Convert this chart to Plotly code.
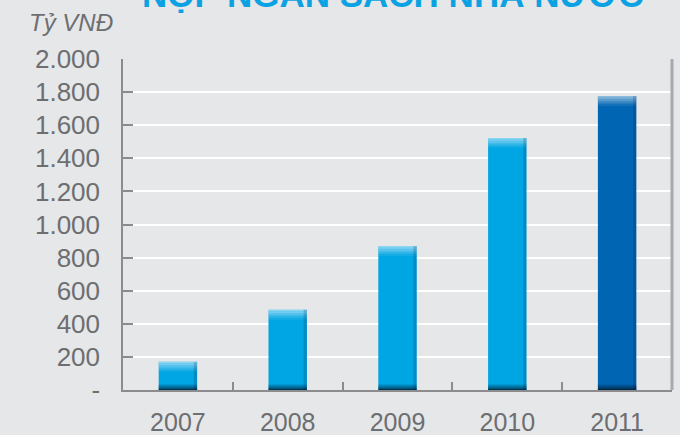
import plotly.graph_objects as go

# Annual contributions to the state budget (billion VND)
years = ["2007", "2008", "2009", "2010", "2011"]
values = [170, 485, 870, 1523, 1776]
bar_colors = ["#00a5e3", "#00a5e3", "#00a5e3", "#00a5e3", "#0066b3"]

y_ticks = [0, 200, 400, 600, 800, 1000, 1200, 1400, 1600, 1800, 2000]
y_tick_text = ["-", "200", "400", "600", "800", "1.000", "1.200", "1.400", "1.600", "1.800", "2.000"]

title_text = "NỘP NGÂN SÁCH NHÀ NƯỚC"
unit_text = "Tỷ VNĐ"

BAR_W = 0.35
BG = "#e6e7e8"
AXIS = "#8c8c8e"
TEXT = "#6d6e71"

fig = go.Figure()

# main bars
fig.add_trace(go.Bar(
    x=years, y=values, width=BAR_W,
    marker=dict(color=bar_colors, line=dict(width=0)),
    hoverinfo="x+y",
))

# glossy highlight at the top of each bar
band = 10
for i, a in enumerate([0.55, 0.45, 0.35, 0.25, 0.15, 0.07]):
    fig.add_trace(go.Bar(
        x=years, y=[band] * len(values),
        base=[v - band * (i + 1) for v in values],
        width=BAR_W,
        marker=dict(color=f"rgba(255,255,255,{a})", line=dict(width=0)),
        hoverinfo="skip",
    ))

# dark shadow at the foot of each bar
shade = 7
for i, a in enumerate([0.75, 0.6, 0.42, 0.25, 0.1]):
    fig.add_trace(go.Bar(
        x=years, y=[shade] * len(values),
        base=[shade * i] * len(values),
        width=BAR_W,
        marker=dict(color=f"rgba(0,20,35,{a})", line=dict(width=0)),
        hoverinfo="skip",
    ))

# darker strip along the right edge
edge_w = 0.03
fig.add_trace(go.Bar(
    x=years, y=values, width=edge_w, offset=BAR_W / 2 - edge_w,
    marker=dict(color="rgba(0,30,60,0.18)", line=dict(width=0)),
    hoverinfo="skip",
))

# right frame line
fig.add_shape(type="line", xref="paper", yref="y", x0=1, x1=1, y0=0, y1=2000,
              line=dict(color="#a7a9ac", width=3), layer="above")

fig.add_annotation(
    text=title_text, xref="paper", yref="paper", x=0.492, y=1.13,
    xanchor="center", yanchor="bottom", showarrow=False,
    font=dict(family="Liberation Sans", size=35, color="#0aa2e2", weight="bold"),
)
fig.add_annotation(
    text=unit_text, xref="paper", yref="paper", x=-0.175, y=1.062,
    xanchor="left", yanchor="bottom", showarrow=False,
    font=dict(family="Liberation Sans", size=24, color=TEXT, style="italic"),
)

fig.update_layout(
    width=680, height=435,
    margin=dict(l=123, r=8, t=59, b=45),
    paper_bgcolor=BG, plot_bgcolor=BG,
    barmode="overlay", showlegend=False,
    font=dict(family="Liberation Sans", color=TEXT),
)

fig.update_yaxes(
    range=[0, 2000], tickvals=y_ticks, ticktext=y_tick_text, automargin=False,
    showgrid=True, gridcolor="#ffffff", gridwidth=2, zeroline=False,
    showline=True, linecolor=AXIS, linewidth=1.5,
    ticks="inside", ticklen=10, tickcolor=AXIS, tickwidth=1.5,
    ticklabelstandoff=16, tickfont=dict(size=26, color=TEXT),
)
fig.update_xaxes(
    type="category", range=[-0.5, 4.5], showgrid=False, zeroline=False, automargin=False,
    showline=True, linecolor=AXIS, linewidth=2,
    ticks="inside", tickson="boundaries", ticklen=8, tickcolor=AXIS, tickwidth=1.5,
    ticklabelstandoff=9, tickfont=dict(size=25, color=TEXT),
)

fig.write_html("out.html")
